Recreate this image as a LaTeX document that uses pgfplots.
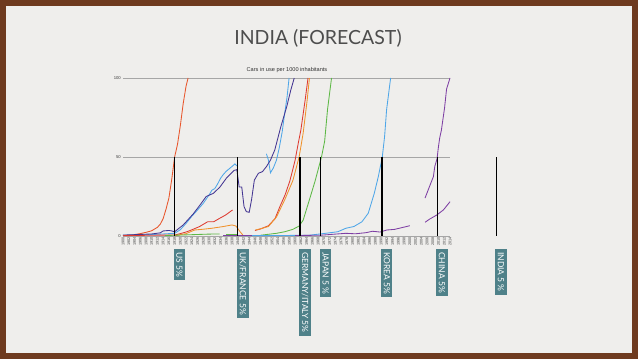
\documentclass[border=0pt]{standalone}
\usepackage{pgfplots}
\pgfplotsset{compat=1.18}
\usepackage{fontspec}
\setsansfont{Liberation Sans}
\newfontfamily\titlefont{Lato}
\definecolor{slide}{HTML}{EFEEEC}
\definecolor{frame}{HTML}{6E3A1F}
\definecolor{usred}{HTML}{E8552B}
\definecolor{ukred}{HTML}{DE3A30}
\definecolor{frorange}{HTML}{F0922C}
\definecolor{lblue}{HTML}{4EA6E8}
\definecolor{indigo}{HTML}{433592}
\definecolor{jgreen}{HTML}{5DB845}
\definecolor{cpurple}{HTML}{7E3FA4}
\definecolor{teal}{HTML}{4F8189}
\definecolor{titlegrey}{HTML}{4D4D4D}
\begin{document}
\begin{tikzpicture}[x=1pt,y=1pt]
\fill[frame] (0,0) rectangle (638,359);
\fill[slide] (6,6) rectangle (632,353);
\node[font=\titlefont\fontsize{19.5}{19.5}\selectfont, text=titlegrey] at (318,321) {INDIA (FORECAST)};
\node[font=\sffamily\fontsize{5.6}{6}\selectfont, text=black!80] at (287,289) {Cars in use per 1000 inhabitants};
\begin{axis}[
  at={(123pt,123pt)}, anchor=south west,
  scale only axis, width=327pt, height=158pt,
  xmin=1900, xmax=2014, ymin=0, ymax=100,
  clip=false,
  axis line style={draw=none},
  major tick length=0pt,
  ytick={0,50,100},
  ymajorgrids, grid style={gray!70, line width=0.6pt},
  xtick={1900,1902,...,2014},
  /pgf/number format/1000 sep={},
  /pgf/number format/assume math mode=true,
  xticklabel style={rotate=90, anchor=east, font=\sffamily\fontsize{3.8}{3.8}\selectfont, text=black!75, inner sep=1pt},
  yticklabel style={font=\sffamily\fontsize{4.2}{4.2}\selectfont, text=black!75, inner sep=2pt},
  every axis plot/.append style={line width=0.85pt, mark=none},
]
% US
\addplot[usred] coordinates {(1900,0.3)(1903,0.6)(1906,1.5)(1908,2.3)(1910,3.3)(1912,5.5)(1913,7.5)(1914,11)(1915,17)(1916,24)(1917,36)(1918,50)(1919,58)(1920,70)(1921,84)(1922,95)(1922.7,100)};
% light blue
\addplot[lblue] coordinates {(1900,0.4)(1905,0.6)(1910,0.9)(1914,1.3)(1918,1.7)(1920,4)(1922,8)(1924,12.5)(1926,16.5)(1928,20.7)(1930,26)(1931,29)(1932,30)(1933,33)(1934,36.5)(1935,39)(1936,41)(1937,42.5)(1938,44)(1939,45.6)(1940,44)};
\addplot[lblue] coordinates {(1950,52)(1950.7,48)(1951.4,40)(1952.4,43)(1953.5,48)(1954.5,56)(1955.5,66)(1956.4,78)(1957.2,88)(1957.9,100)};
% indigo
\addplot[indigo] coordinates {(1900,0.6)(1905,0.9)(1910,1.3)(1913,2)(1914,3.2)(1916,3.5)(1917,3.2)(1918,2.7)(1921,7)(1924.5,14)(1927,20)(1929,25)(1931.5,27)(1933.8,31)(1936,36.5)(1938.7,41.5)(1939.7,42)(1940.5,31)(1941.4,31)(1942.2,18.6)(1943,15.4)(1944,15)(1944.8,22.8)(1945.8,35.4)(1947.2,39.7)(1948.6,40.7)(1950,43.9)(1951.4,48)(1952.9,54.4)(1955,69)(1957.1,82)(1958.5,92.4)(1959.7,100)};
% UK red
\addplot[ukred] coordinates {(1900,0.2)(1910,0.5)(1918,0.6)(1920,1.5)(1922.3,2.7)(1924.5,4.3)(1926.6,5.9)(1929.5,9)(1931.6,9)(1933.7,11.2)(1935.8,13.3)(1938.2,16.5)};
\addplot[ukred] coordinates {(1946,3.5)(1948,4.5)(1950.7,6.5)(1953,11)(1954.7,18.6)(1956.5,26)(1958.2,35)(1960,48)(1961.1,58.7)(1962,67)(1963.5,86)(1964.5,100)};
% France orange
\addplot[frorange] coordinates {(1918,0.2)(1922,1.5)(1925,3.8)(1928,4.3)(1931,4.9)(1935,6)(1938,7)(1939.4,6.3)(1940.8,2.7)(1941.8,0.6)};
\addplot[frorange] coordinates {(1946.2,3.8)(1948,4.6)(1950.7,6)(1953.5,12)(1956.4,23)(1959.2,35)(1961.4,50)(1962.8,65)(1964.2,86)(1965,100)};
% Japan green
\addplot[jgreen] coordinates {(1914.6,0.3)(1920,0.6)(1925,0.9)(1930,1.2)(1933.7,1.3)};
\addplot[jgreen] coordinates {(1936,0.8)(1940,0.8)};
\addplot[jgreen] coordinates {(1948,0.5)(1953.5,1.7)(1956.4,2.7)(1959.2,4.2)(1961.4,6.3)(1962.8,10)(1965,23)(1967,35)(1969.2,50)(1970.3,60)(1971.3,80)(1972.7,100)};
% Korea light blue
\addplot[lblue] coordinates {(1942,0.2)(1955,0.3)(1965,0.5)(1970.6,1.7)(1974.9,2.7)(1977.7,4.9)(1980.5,6)(1983.3,9)(1985.5,14.4)(1987.6,27)(1989,37.5)(1990.4,50)(1991.2,63)(1991.9,80)(1993.3,100)};
% China purple
\addplot[cpurple] coordinates {(1935,0.3)(1945,0.3)};
\addplot[cpurple] coordinates {(1960,0.3)(1969,0.5)(1974,1.2)(1977.7,1.7)(1981,1.4)(1984.7,2.1)(1987,3)(1989.6,2.5)(1992,3.8)(1994.7,4.2)(1997,5.2)(2000,6.5)};
\addplot[cpurple] coordinates {(2005.3,8.7)(2007,10.8)(2009.4,13.3)(2011.7,16.5)(2014,21.7)};
\addplot[cpurple] coordinates {(2005.3,24)(2007,32)(2008.2,37.5)(2008.7,44)(2009.5,49)(2009.9,55.5)(2010.4,62)(2011,67)(2012.1,81)(2012.8,93)(2014,100)};
% 5% markers
\pgfplotsinvokeforeach{1918,1940,1961.7,1969,1990.3,2009.5,2030.1}{
  \addplot[black, line width=1.1pt] coordinates {(#1,0)(#1,50)};
}
\tikzset{lab/.style={fill=teal, text=white, rotate=-90, anchor=south west, font=\titlefont\fontsize{8.5}{8.5}\selectfont, inner xsep=3pt, inner ysep=2.5pt}}
\node[lab] at ([yshift=-13pt,xshift=-1pt]axis cs:1918,0) {US 5\%};
\node[lab] at ([yshift=-13pt,xshift=-1pt]axis cs:1940,0) {UK/FRANCE 5\%};
\node[lab] at ([yshift=-13pt,xshift=-1pt]axis cs:1961.7,0) {GERMANY/ITALY 5\%};
\node[lab] at ([yshift=-13pt,xshift=-1pt]axis cs:1969,0) {JAPAN 5 \%};
\node[lab] at ([yshift=-13pt,xshift=-1pt]axis cs:1990.3,0) {KOREA 5\%};
\node[lab] at ([yshift=-13pt,xshift=-1pt]axis cs:2009.5,0) {CHINA 5\%};
\node[lab] at ([yshift=-13pt,xshift=-1pt]axis cs:2030.1,0) {INDIA 5 \%};
\end{axis}
\end{tikzpicture}
\end{document}
